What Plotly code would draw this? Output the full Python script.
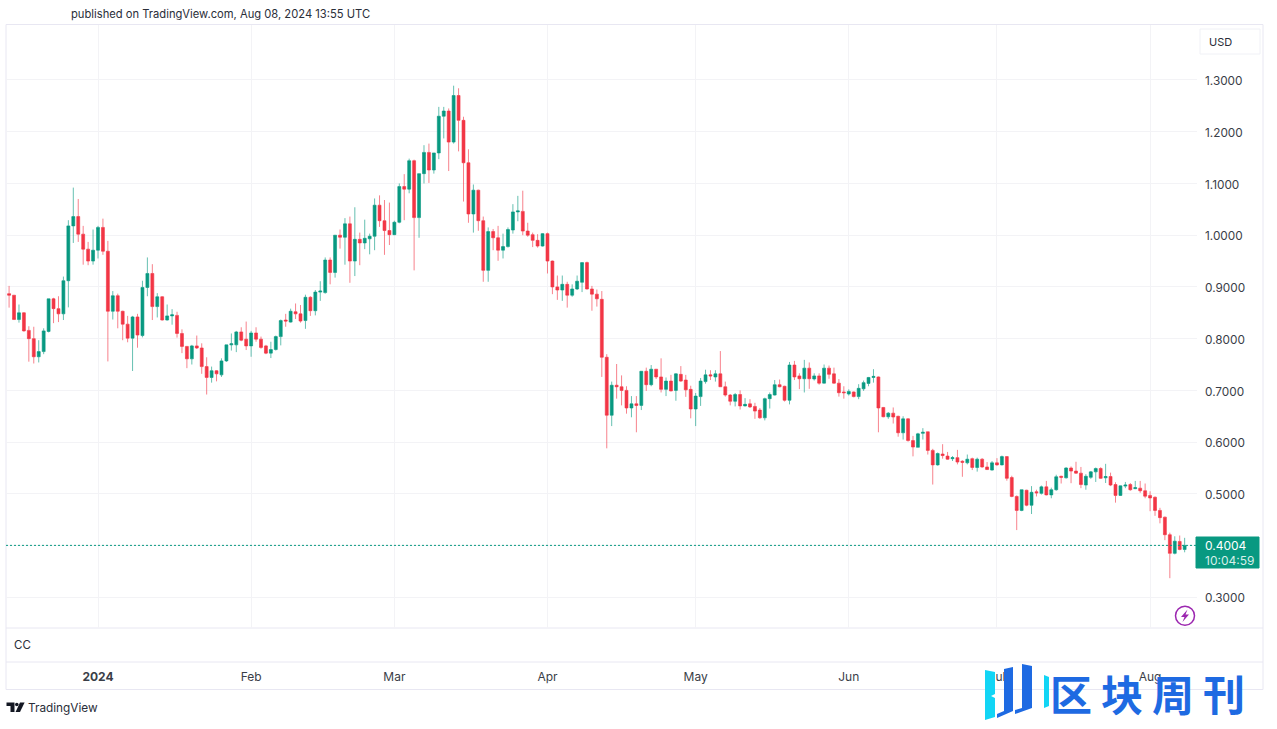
import pandas as pd
import plotly.graph_objects as go

first_day = "2023-12-14"

open_ = [
 .887,.884,.837,.850,.816,.800,.765,.775,.814,.877,
 .858,.848,.912,1.018,1.036,1.002,.973,.950,.971,1.015,
 .969,.853,.883,.853,.828,.801,.842,.806,.899,.926,
 .862,.881,.836,.844,.845,.810,.785,.761,.786,.782,
 .746,.725,.738,.730,.757,.788,.788,.813,.799,.786,
 .811,.799,.786,.772,.779,.804,.836,.832,.852,.848,
 .835,.880,.854,.890,.889,.952,.928,1.000,.996,1.022,
 .950,.992,.985,.993,.998,1.058,1.028,1.009,1.001,1.025,
 1.094,1.089,1.144,1.034,1.119,1.160,1.126,1.159,1.230,1.240,
 1.180,1.270,1.222,1.140,1.041,1.087,1.028,.932,1.007,.995,
 .971,.978,1.010,1.045,1.046,1.008,1.001,.990,.979,1.003,
 .950,.900,.894,.905,.884,.896,.909,.947,.896,.886,
 .876,.764,.652,.710,.707,.700,.666,.674,.671,.737,
 .711,.741,.726,.702,.718,.700,.731,.720,.702,.664,
 .688,.717,.730,.726,.732,.707,.691,.679,.692,.670,
 .674,.669,.662,.647,.684,.691,.711,.708,.681,.749,
 .728,.7225,.743,.722,.728,.714,.743,.732,.714,.697,
 .693,.697,.688,.703,.7135,.725,.726,.667,.649,.656,
 .650,.618,.645,.603,.590,.617,.620,.584,.556,.577,
 .573,.568,.570,.563,.560,.568,.551,.567,.552,.546,
 .560,.556,.572,.5315,.495,.468,.507,.478,.504,.501,
 .5135,.498,.508,.534,.531,.550,.544,.540,.517,.532,
 .5425,.549,.531,.5335,.518,.497,.515,.518,.510,.511,
 .506,.497,.4935,.468,.455,.421,.385,.408,.3925,
]
close = [
 .884,.837,.850,.815,.800,.765,.775,.815,.877,.858,
 .848,.912,1.018,1.036,1.002,.973,.950,.971,1.015,.969,
 .853,.883,.853,.828,.801,.842,.807,.899,.926,.862,
 .881,.836,.844,.846,.810,.785,.761,.786,.782,.746,
 .725,.738,.732,.757,.788,.790,.813,.797,.786,.811,
 .799,.783,.772,.779,.804,.835,.834,.853,.848,.834,
 .880,.854,.890,.892,.952,.928,1.000,.996,1.022,.950,
 .992,.985,.994,.998,1.058,1.028,1.009,1.001,1.025,1.094,
 1.089,1.144,1.034,1.119,1.160,1.126,1.159,1.230,1.240,1.180,
 1.270,1.222,1.140,1.041,1.087,1.028,.932,1.007,.995,.971,
 .978,1.011,1.045,1.047,1.008,1.000,.990,.979,1.003,.950,
 .900,.894,.905,.884,.896,.911,.947,.896,.886,.877,
 .764,.652,.710,.707,.700,.666,.674,.671,.737,.711,
 .741,.726,.702,.718,.699,.732,.718,.701,.664,.689,
 .718,.730,.728,.732,.707,.691,.679,.692,.670,.673,
 .668,.660,.647,.684,.692,.711,.707,.681,.749,.726,
 .7225,.743,.7225,.728,.714,.743,.731,.714,.6955,.6955,
 .698,.688,.704,.715,.725,.727,.666,.649,.656,.6485,
 .618,.645,.603,.5905,.616,.619,.584,.556,.578,.574,
 .567,.570,.5615,.561,.567,.551,.567,.552,.547,.560,
 .556,.572,.530,.495,.468,.508,.478,.503,.502,.5135,
 .498,.508,.533,.532,.550,.544,.540,.518,.534,.5425,
 .549,.530,.5335,.517,.497,.5155,.517,.508,.512,.506,
 .4955,.492,.468,.454,.421,.385,.4085,.3925,.4004,
]
high = [
 .902,.884,.866,.851,.824,.823,.797,.820,.877,.879,
 .882,.920,1.029,1.092,1.070,1.018,.987,1.011,1.018,1.032,
 .989,.892,.887,.854,.844,.844,.848,.912,.957,.944,
 .888,.882,.866,.857,.852,.818,.786,.788,.806,.791,
 .764,.746,.739,.762,.788,.810,.815,.822,.833,.815,
 .822,.804,.788,.794,.806,.837,.848,.858,.868,.865,
 .885,.882,.894,.911,.957,.957,1.000,1.011,1.033,1.036,
 1.054,1.005,1.030,1.003,1.071,1.077,1.068,1.063,1.028,1.100,
 1.118,1.148,1.146,1.119,1.174,1.177,1.159,1.248,1.248,1.245,
 1.289,1.284,1.229,1.166,1.098,1.088,1.036,1.015,1.012,1.018,
 1.003,1.015,1.060,1.076,1.086,1.024,1.005,1.002,1.004,1.005,
 .951,.922,.922,.910,.905,.922,.947,.949,.902,.895,
 .892,.770,.717,.751,.729,.708,.689,.689,.737,.744,
 .749,.741,.762,.725,.730,.733,.747,.730,.709,.695,
 .724,.740,.739,.739,.776,.717,.693,.695,.700,.685,
 .683,.676,.666,.686,.696,.720,.721,.709,.755,.757,
 .733,.759,.754,.733,.733,.750,.748,.744,.722,.708,
 .702,.698,.712,.719,.726,.741,.727,.668,.658,.667,
 .651,.650,.646,.612,.618,.627,.620,.587,.580,.596,
 .581,.573,.585,.565,.576,.570,.570,.569,.5615,.5635,
 .569,.574,.5725,.535,.497,.508,.508,.515,.508,.516,
 .525,.512,.537,.535,.5515,.553,.562,.552,.538,.544,
 .551,.5515,.558,.541,.5225,.516,.523,.521,.525,.525,
 .520,.505,.495,.473,.456,.425,.418,.4195,.415,
]
low = [
 .860,.837,.831,.8135,.7555,.752,.754,.770,.812,.830,
 .832,.836,.8605,.985,.987,.943,.942,.943,.955,.962,
 .756,.837,.820,.797,.793,.7375,.7825,.8025,.882,.836,
 .841,.835,.835,.827,.802,.772,.743,.750,.780,.732,
 .692,.715,.7175,.726,.755,.777,.774,.795,.778,.765,
 .794,.7805,.770,.7625,.777,.787,.823,.831,.838,.831,
 .819,.844,.845,.873,.887,.905,.918,.974,.943,.908,
 .921,.942,.973,.963,.971,1.016,.962,.981,1.000,1.023,
 1.029,1.081,.932,.995,1.100,1.101,1.119,1.147,1.187,1.124,
 1.177,1.162,1.065,1.024,1.005,1.0085,.910,.910,.971,.9505,
 .955,.976,1.003,1.027,1.000,.997,.977,.976,.978,.926,
 .886,.875,.873,.860,.881,.894,.890,.895,.854,.862,
 .726,.588,.631,.684,.671,.655,.648,.619,.662,.699,
 .708,.722,.696,.689,.698,.680,.7165,.6875,.646,.631,
 .670,.713,.720,.717,.707,.688,.671,.669,.663,.669,
 .666,.645,.645,.642,.665,.690,.706,.6785,.673,.720,
 .7025,.696,.703,.719,.711,.7135,.7225,.713,.688,.684,
 .690,.6865,.683,.699,.708,.715,.619,.648,.645,.636,
 .6105,.605,.601,.5725,.590,.605,.576,.518,.5545,.568,
 .566,.5635,.557,.533,.557,.546,.543,.5505,.546,.545,
 .5545,.555,.5255,.4935,.430,.4665,.476,.461,.495,.4987,
 .497,.4915,.506,.520,.5296,.5206,.5386,.511,.508,.529,
 .523,.529,.521,.515,.483,.496,.511,.506,.509,.502,
 .4915,.4665,.4575,.443,.4105,.337,.383,.391,.387,
]

price_ticks = [0.3, 0.4, 0.5, 0.6, 0.7, 0.8, 0.9, 1.0, 1.1, 1.2, 1.3]
shown_price_ticks = [p for p in price_ticks if p != 0.4]
month_ticks = ["2024-01-01", "2024-02-01", "2024-03-01", "2024-04-01",
               "2024-05-01", "2024-06-01", "2024-07-01", "2024-08-01"]
month_labels = ["<b>2024</b>", "Feb", "Mar", "Apr", "May", "Jun", "Jul", "Aug"]
last_price = close[-1]
countdown = "10:04:59"
header = "published on TradingView.com, Aug 08, 2024 13:55 UTC"
watermark_chars = ["区", "块", "周", "刊"]

UP, DOWN = "#089981", "#F23645"
TEXT = "#2a2e39"
TICK = "#3a3e48"
FRAME = "#e8e7f2"
GRID = "#f3f3f6"
FONT = "Inter"
W, H = 1277, 729
L, R, T, B = 6, 1197, 25, 628


def px(x):
    return (x - L) / (R - L)


def py(y):
    return (B - y) / (B - T)


def path(points, close_it=True):
    s = "M" + " L".join(f"{px(x):.5f},{py(y):.5f}" for x, y in points)
    return s + (" Z" if close_it else "")


def pshape(points, fill, **kw):
    return dict(type="path", xref="paper", yref="paper", path=path(points),
                fillcolor=fill, line=dict(width=0), layer="above", **kw)


def hline(y, x0, x1, color=FRAME):
    return dict(type="line", xref="paper", yref="paper", x0=px(x0), x1=px(x1),
                y0=py(y), y1=py(y), line=dict(color=color, width=1), layer="below")


def vline(x, y0, y1, color=FRAME):
    return dict(type="line", xref="paper", yref="paper", x0=px(x), x1=px(x),
                y0=py(y0), y1=py(y1), line=dict(color=color, width=1), layer="below")


def label(x, y, text, size=12, color=TEXT, anchor="left", font=FONT):
    return dict(xref="paper", yref="paper", x=px(x), y=py(y), text=text, showarrow=False,
                xanchor=anchor, yanchor="middle", align=anchor,
                font=dict(size=size, color=color, family=font))


dates = pd.date_range(first_day, periods=len(close), freq="D")

fig = go.Figure(go.Candlestick(
    x=dates, open=open_, high=high, low=low, close=close,
    increasing=dict(line=dict(color="rgba(8,153,129,0.62)", width=1), fillcolor=UP),
    decreasing=dict(line=dict(color="rgba(242,54,69,0.62)", width=1), fillcolor=DOWN),
    showlegend=False,
))

shapes = [
    hline(24.5, 6, 1263), hline(628, 6, 1263), hline(662, 6, 1263), hline(689.5, 6, 1263),
    vline(6, 24.5, 689.5), vline(1263, 24.5, 689.5),
    dict(type="line", xref="paper", yref="y", x0=0, x1=1, y0=last_price, y1=last_price,
         line=dict(color=UP, width=1, dash="2px,2px"), layer="above"),
    dict(type="rect", xref="paper", yref="paper", x0=px(1200), x1=px(1260), y0=py(54), y1=py(29),
         line=dict(color="#f0f1f6", width=1), fillcolor="white", layer="above"),
    dict(type="rect", xref="paper", yref="paper", x0=px(1196), x1=px(1259), y0=py(568), y1=py(537),
         line=dict(color=UP, width=1), fillcolor=UP, layer="above"),
    dict(type="circle", xref="paper", yref="paper", x0=px(1175.5), x1=px(1194.5), y0=py(625.3), y1=py(606.3),
         line=dict(color="#9C27B0", width=1.5), fillcolor="white", layer="above"),
    pshape([(1187.5, 609.5), (1181, 617), (1184.5, 617), (1182.5, 622), (1189, 614.5), (1185.5, 614.5)], "#9C27B0"),
    # TradingView mark
    pshape([(6.5, 702.5), (14.5, 702.5), (14.5, 712), (10.5, 712), (10.5, 706), (6.5, 706)], "#131722"),
    dict(type="circle", xref="paper", yref="paper", x0=px(15), x1=px(18.6), y0=py(706.3), y1=py(702.7),
         line=dict(width=0), fillcolor="#131722", layer="above"),
    pshape([(20, 702.5), (24.6, 702.5), (20, 712), (15.6, 712)], "#131722"),
    # watermark logo
    pshape([(985, 670), (995, 672), (995, 694), (991, 696), (995, 698), (995, 717), (985, 720)], "#12D5F5"),
    pshape([(1004, 669), (1013, 667), (1013, 711), (997, 718), (997, 714), (1004, 711)], "#1E6AE2"),
    pshape([(1022, 664), (1032, 666), (1032, 708), (1015, 714), (1015, 710), (1022, 708)], "#1E6AE2"),
    pshape([(1044, 675), (1049, 677), (1049, 706), (1044, 708)], "#12D5F5"),
]

annotations = [
    label(69, 14, header, size=11.2),
    label(12, 645, "CC", size=11.5),
    label(1207, 42, "USD", size=11),
    label(1203, 545.5, f"{last_price:.4f}", size=12, color="white"),
    label(1203, 560, countdown, size=12, color="#d6efe9"),
    label(26, 708, "TradingView", size=11.8, color=TEXT),
]
for i, ch in enumerate(watermark_chars):
    annotations.append(label(1071 + i * 51, 692, f"<b>{ch}</b>", size=42, color="#1E6AE2",
                             anchor="center", font="Noto Sans CJK SC"))

fig.update_layout(
    width=W, height=H, autosize=False,
    margin=dict(l=L, r=W - R, t=T, b=H - B, pad=0),
    paper_bgcolor="white", plot_bgcolor="white",
    font=dict(family=FONT, size=12, color=TEXT),
    shapes=shapes, annotations=annotations, hovermode=False, boxgap=0.15,
    xaxis=dict(
        type="date", range=["2023-12-13 09:00", "2024-08-10 12:00"],
        rangeslider=dict(visible=False),
        tickmode="array", tickvals=month_ticks, ticktext=month_labels,
        showgrid=True, gridcolor=GRID, gridwidth=1, zeroline=False, showline=False,
        ticks="", ticklabelstandoff=40, tickfont=dict(size=12, color=TICK, family=FONT),
    ),
    yaxis=dict(
        range=[0.2407, 1.4063], side="right", tickmode="array",
        tickvals=price_ticks,
        ticktext=[f"{p:.4f}" if p in shown_price_ticks else " " for p in price_ticks],
        showgrid=True, gridcolor=GRID, gridwidth=1, zeroline=False, showline=False,
        ticks="", ticklabelstandoff=7, ticklabelshift=1,
        tickfont=dict(size=11.8, color=TICK, family=FONT),
    ),
)

fig.write_html("out.html", config={"displayModeBar": False},
               post_script="document.body.style.margin='0';")
